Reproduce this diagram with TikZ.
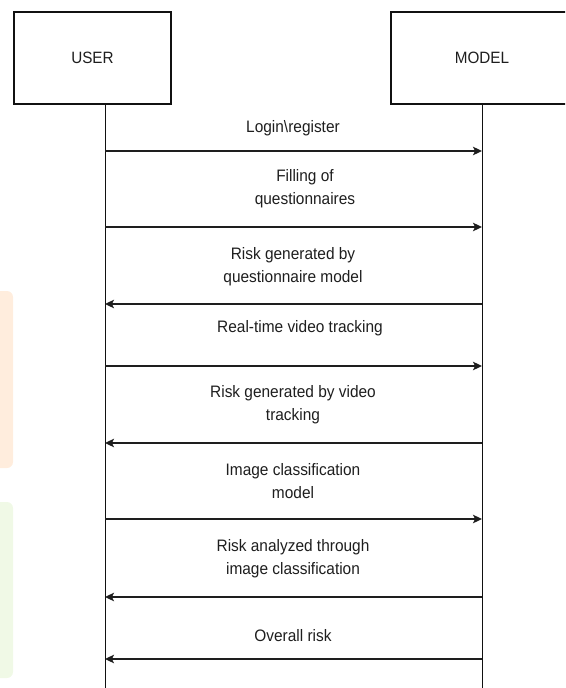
\documentclass[tikz,border=0pt]{standalone}
\usepackage{fontspec}
\setmainfont{Liberation Sans}[FakeStretch=0.93]
\usetikzlibrary{arrows.meta}
\definecolor{ink}{HTML}{111111}
\definecolor{ink2}{HTML}{1E1E1E}
\definecolor{wmorange}{HTML}{FFEDDD}
\definecolor{wmgreen}{HTML}{F0F9E6}
\tikzset{
  >={Stealth[length=9pt,width=8.5pt,inset=2pt]},
  every picture/.style={line join=miter},
  actor/.style={draw=ink, line width=1.2pt, fill=white, minimum height=92pt,
    font=\fontsize{16.4}{18}\selectfont, text=ink2, inner sep=0pt},
  life/.style={draw=ink, line width=0.9pt},
  msg/.style={->, draw=ink2, line width=1.5pt},
  msglbl/.style={font=\fontsize{16.6}{23}\selectfont, text=ink2, align=center, inner sep=0pt},
  wm/.style={fill=#1, draw=none, rounded corners=6pt},
}

\begin{document}
\begin{tikzpicture}[x=1pt,y=-1pt]
  \clip (0,0) rectangle (565,688);
  % faint page marks at the left edge
  \fill[wm=wmorange] (-12,291) rectangle (13,468);
  \fill[wm=wmgreen] (-12,502) rectangle (13,678);

  % ======================= actors =======================
  \node[actor, minimum width=157pt] (user) at (92.5,58) {USER};
  \node[actor, minimum width=182pt] (model) at (482,58) {MODEL};
  \coordinate (uend) at (105,700);
  \coordinate (mend) at (482,700);
  \draw[life] (user.south -| uend) -- (uend);
  \draw[life] (model.south) -- (mend);

  % ======================= messages =======================
  \foreach \i/\y/\from/\to/\lx/\ly/\txt in {
      1/151/u/m/293/128/{Login\textbackslash register},
      2/227/u/m/305/188.5/{Filling of\\questionnaires},
      3/304/m/u/293/266.5/{Risk generated by\\questionnaire model},
      4/366/u/m/300/328/{Real-time video tracking},
      5/443/m/u/293/404.5/{Risk generated by video\\tracking},
      6/519/u/m/293/481.5/{Image classification\\model},
      7/597/m/u/293/558.5/{Risk analyzed through\\image classification},
      8/659/m/u/293/636/{Overall risk}}{
    \coordinate (u\i) at (105,\y);
    \coordinate (m\i) at (482,\y);
    \draw[msg] (\from\i) -- (\to\i);
    \node[msglbl] (l\i) at (\lx,\ly) {\txt};
  }
\end{tikzpicture}
\end{document}
